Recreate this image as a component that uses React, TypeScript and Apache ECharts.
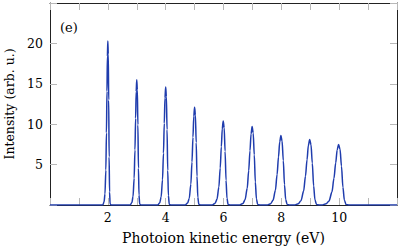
import React, { useEffect, useRef } from "react";
import * as echarts from "echarts";

// Baseline ends of the spectrum
const baseline: number[][] = [[0, 0], [12, 0]];

// Peaks: [energy (eV), intensity (arb. u.)]
const peak2: number[][] = [[1.826,0],[1.871,0.41],[1.901,1.36],[1.931,4.32],[1.952,8.93],[1.97,14.07],[1.985,18.41],[2.0,20.3],[2.015,18.68],[2.03,12.99],[2.045,5.95],[2.06,1.62],[2.078,0.14],[2.111,0]];
const peak3: number[][] = [[2.774,0],[2.832,0.31],[2.871,1.04],[2.91,3.3],[2.938,6.82],[2.961,10.74],[2.98,14.06],[3.0,15.5],[3.02,14.26],[3.039,9.92],[3.059,4.54],[3.078,1.24],[3.101,0.11],[3.144,0]];
const peak4: number[][] = [[3.724,0],[3.796,0.29],[3.843,0.98],[3.891,3.11],[3.924,6.42],[3.952,10.12],[3.976,13.24],[4.0,14.6],[4.024,13.43],[4.048,9.34],[4.071,4.28],[4.095,1.17],[4.124,0.1],[4.176,0]];
const peak5: number[][] = [[4.675,0],[4.759,0.24],[4.815,0.81],[4.871,2.58],[4.91,5.32],[4.944,8.39],[4.972,10.97],[5.0,12.1],[5.028,11.13],[5.056,7.74],[5.084,3.55],[5.112,0.97],[5.146,0.08],[5.207,0]];
const peak6: number[][] = [[5.613,0],[5.71,0.21],[5.775,0.7],[5.84,2.22],[5.886,4.58],[5.925,7.21],[5.957,9.43],[5.99,10.4],[6.023,9.57],[6.055,6.66],[6.088,3.05],[6.12,0.83],[6.159,0.07],[6.231,0]];
const peak7: number[][] = [[6.561,0],[6.672,0.19],[6.746,0.65],[6.82,2.07],[6.872,4.27],[6.916,6.72],[6.953,8.8],[6.99,9.7],[7.027,8.92],[7.064,6.21],[7.101,2.84],[7.138,0.78],[7.182,0.07],[7.264,0]];
const peak8: number[][] = [[7.506,0],[7.63,0.17],[7.713,0.58],[7.795,1.83],[7.853,3.78],[7.902,5.96],[7.944,7.8],[7.985,8.6],[8.026,7.91],[8.068,5.5],[8.109,2.52],[8.15,0.69],[8.2,0.06],[8.29,0]];
const peak9: number[][] = [[8.452,0],[8.589,0.16],[8.68,0.54],[8.771,1.73],[8.834,3.56],[8.889,5.61],[8.934,7.35],[8.98,8.1],[9.026,7.45],[9.071,5.18],[9.117,2.37],[9.162,0.65],[9.217,0.06],[9.317,0]];
const peak10: number[][] = [[9.4,0],[9.55,0.15],[9.65,0.5],[9.75,1.6],[9.82,3.3],[9.88,5.2],[9.93,6.8],[9.98,7.5],[10.03,6.9],[10.08,4.8],[10.13,2.2],[10.18,0.6],[10.24,0.05],[10.35,0]];

const xTickLabels = [2, 4, 6, 8, 10];
const yTickLabels = [5, 10, 15, 20];

const FONT = "DejaVu Serif";

export default function App() {
  const ref = useRef<HTMLDivElement>(null);
  useEffect(() => {
    if (!ref.current) return;
    const chart = echarts.init(ref.current, undefined, { renderer: "svg" });
    const data = [
      baseline[0],
      ...peak2, ...peak3, ...peak4, ...peak5, ...peak6,
      ...peak7, ...peak8, ...peak9, ...peak10,
      baseline[1],
    ];
    const tick = { show: true, inside: true, length: 7, lineStyle: { color: "#b8b8b8", width: 1 } };
    const line = { show: true, onZero: false, lineStyle: { color: "#222", width: 1 } };
    chart.setOption({
      animation: false,
      textStyle: { fontFamily: FONT },
      grid: { left: 50, right: 1, top: 3, bottom: 44, containLabel: false, outerBoundsMode: "none" },
      xAxis: [
        {
          type: "value", min: 0, max: 12, interval: 1, position: "bottom",
          axisLine: line, axisTick: tick, splitLine: { show: false },
          axisLabel: {
            color: "#000", fontFamily: FONT, fontSize: 12.5, margin: 6,
            formatter: (v: number) => (xTickLabels.includes(v) ? String(v) : ""),
          },
          name: "Photoion kinetic energy (eV)", nameLocation: "middle", nameGap: 26,
          nameTextStyle: { color: "#000", fontFamily: FONT, fontSize: 14 },
        },
        {
          type: "value", min: 0, max: 12, interval: 1, position: "top",
          axisLine: line, axisTick: tick, splitLine: { show: false }, axisLabel: { show: false },
        },
      ],
      yAxis: [
        {
          type: "value", min: 0, max: 25, interval: 5, position: "left",
          axisLine: line, axisTick: tick, splitLine: { show: false },
          axisLabel: {
            color: "#000", fontFamily: FONT, fontSize: 12.5, margin: 7,
            formatter: (v: number) => (yTickLabels.includes(v) ? String(v) : ""),
          },
          name: "Intensity (arb. u.)", nameLocation: "middle", nameGap: 32,
          nameTextStyle: { color: "#000", fontFamily: FONT, fontSize: 12.5 },
        },
        {
          type: "value", min: 0, max: 25, interval: 5, position: "right",
          axisLine: line, axisTick: tick, splitLine: { show: false }, axisLabel: { show: false },
        },
      ],
      graphic: [
        { type: "text", left: 60, top: 21, style: { text: "(e)", font: "13px DejaVu Serif", fill: "#000" } },
      ],
      series: [
        {
          type: "line", data, showSymbol: false, smooth: 0.3, smoothMonotone: "x",
          lineStyle: { color: "#1f3cad", width: 1.5 }, z: 3,
        },
      ],
    });
    return () => chart.dispose();
  }, []);
  return <div ref={ref} style={{ width: 398, height: 249, position: "absolute", left: 0, top: 0 }} />;
}
